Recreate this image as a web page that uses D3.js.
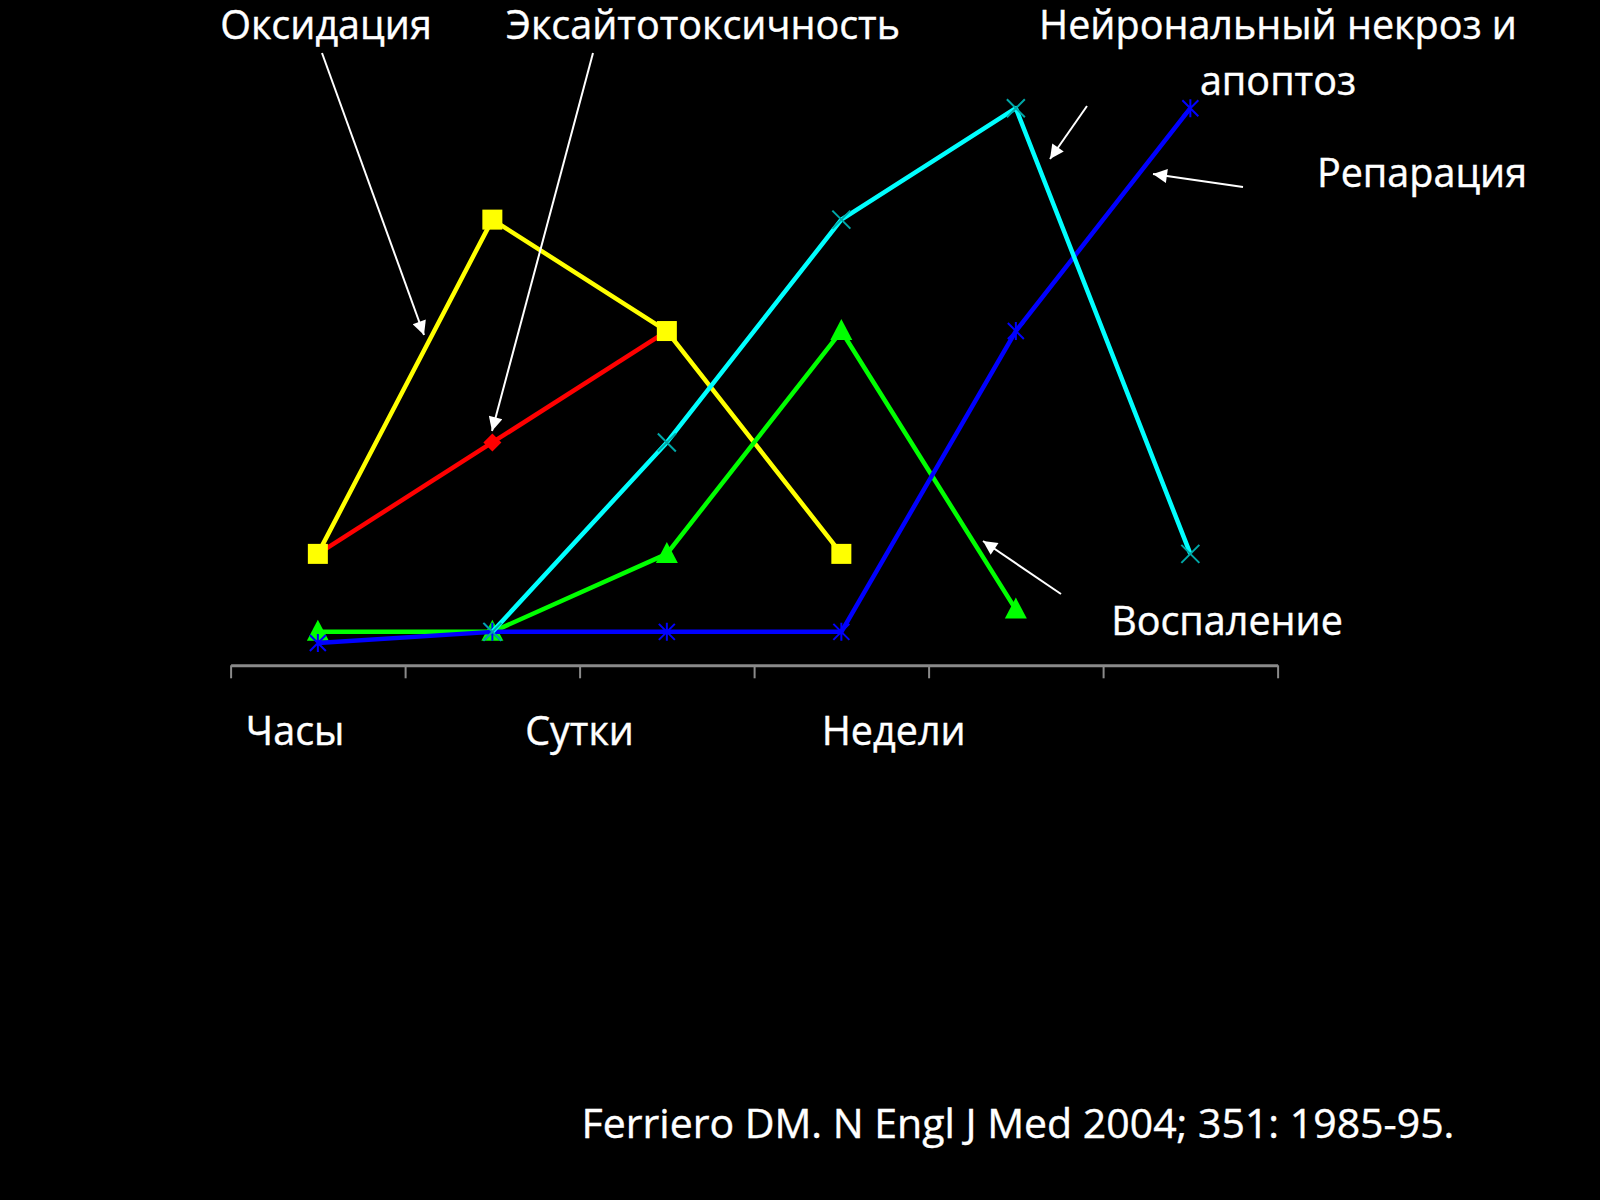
<!DOCTYPE html>
<html><head><meta charset="utf-8">
<script src="https://cdn.jsdelivr.net/npm/d3@7"></script>
<style>html,body{margin:0;padding:0;background:#000;}svg{display:block;}</style>
</head><body>
<svg id="c" width="1600" height="1200"></svg>
<script>
const categories = [0, 1, 2, 3, 4, 5];
const oxidation    = [1, 4, 3, 1, null, null];
const excitotox    = [1, 2, 3, null, null, null];
const necrosis     = [null, 0.3, 2, 4, 5, 1];
const inflammation = [0.3, 0.3, 1, 3, 0.5, null];
const reparation   = [0.2, 0.3, 0.3, 0.3, 3, 5];
const periodLabels = ["Часы", "Сутки", "Недели"];
const periodPos    = [0.37, 2.0, 3.8];
const seriesNames  = ["Оксидация", "Эксайтотоксичность", "Нейрональный некроз и апоптоз", "Репарация", "Воспаление"];
const citation = "Ferriero DM. N Engl J Med 2004; 351: 1985-95.";

const svg = d3.select("#c");
svg.append("rect").attr("width",1600).attr("height",1200).attr("fill","#000");

const x = d3.scaleLinear().domain([0, 6]).range([230.6, 1277.6]);
const y = d3.scaleLinear().domain([0, 5]).range([665.3, 108.2]);
const px = i => x(i + 0.5);

// axis
const ax = svg.append("g").attr("transform", `translate(0,${y(0)})`)
  .call(d3.axisBottom(x).tickValues(d3.range(0,7)).tickFormat("").tickSize(13).tickSizeOuter(0));
ax.select(".domain").attr("stroke","#8a8a8a").attr("stroke-width",3);
ax.selectAll(".tick line").attr("stroke","#8a8a8a").attr("stroke-width",2);

const line = d3.line().defined(d => d.v != null).x(d => px(d.i)).y(d => y(d.v));
const toPts = arr => categories.map(i => ({i, v: arr[i]}));

function drawSeries(arr, color, marker) {
  const pts = toPts(arr);
  svg.append("path").attr("d", line(pts)).attr("fill","none").attr("stroke",color)
    .attr("stroke-width",4.5).attr("stroke-linejoin","round");
  const g = svg.append("g");
  pts.filter(d => d.v != null).forEach(d => marker(g, px(d.i), y(d.v)));
}

const square = (g,cx,cy) => g.append("rect").attr("x",cx-10).attr("y",cy-10).attr("width",20).attr("height",20).attr("fill","#ffff00");
const diamond = (g,cx,cy) => g.append("path").attr("d",`M${cx},${cy-9}L${cx+9},${cy}L${cx},${cy+9}L${cx-9},${cy}Z`).attr("fill","#ff0000");
const triangle = (g,cx,cy) => g.append("path").attr("d",`M${cx},${cy-12}L${cx+11},${cy+9}L${cx-11},${cy+9}Z`).attr("fill","#00ff00");
const star = (g,cx,cy) => g.append("path").attr("d",`M${cx-8},${cy-8}L${cx+8},${cy+8}M${cx+8},${cy-8}L${cx-8},${cy+8}M${cx},${cy-9}L${cx},${cy+9}`).attr("stroke","#0000ff").attr("stroke-width",2);
const cross = (g,cx,cy) => g.append("path").attr("d",`M${cx-9},${cy-9}L${cx+9},${cy+9}M${cx+9},${cy-9}L${cx-9},${cy+9}`).attr("stroke","#00a8a8").attr("stroke-width",2);

drawSeries(excitotox, "#ff0000", diamond);
drawSeries(oxidation, "#ffff00", square);
drawSeries(inflammation, "#00ff00", triangle);
drawSeries(reparation, "#0000ff", star);
drawSeries(necrosis, "#00ffff", cross);

// arrows
const defs = svg.append("defs");
defs.append("marker").attr("id","ah").attr("viewBox","0 0 10 10").attr("refX",10).attr("refY",5)
  .attr("markerWidth",8).attr("markerHeight",7).attr("markerUnits","strokeWidth").attr("orient","auto")
  .append("path").attr("d","M0,0L10,5L0,10Z").attr("fill","#fff");
const arrows = [
  [322,53,424,335],
  [593,53,492,431],
  [1087,106,1050,159],
  [1243,187,1153,174],
  [1061,594,983,541]
];
arrows.forEach(a => svg.append("line").attr("x1",a[0]).attr("y1",a[1]).attr("x2",a[2]).attr("y2",a[3])
  .attr("stroke","#fff").attr("stroke-width",2).attr("marker-end","url(#ah)"));

const font = "'Open Sans', sans-serif";
function label(txt, cx, by, size, anchor) {
  return svg.append("text").attr("x",cx).attr("y",by).attr("fill","#fff")
    .attr("font-family",font).attr("font-size",size).attr("text-anchor",anchor||"middle")
    .attr("stroke","#fff").attr("stroke-width",0.4).text(txt);
}
label(seriesNames[0], 326, 39, 39.5);
label(seriesNames[1], 703, 39, 39.5);
label("Нейрональный некроз и", 1278, 39, 39.5);
label("апоптоз", 1278, 95, 39.5);
label(seriesNames[3], 1422, 187, 39.5);
label(seriesNames[4], 1227, 635, 39.5);
periodLabels.forEach((t,i) => label(t, x(periodPos[i]), 745, 39.5));
label(citation, 1018, 1138, 41);
</script>
</body></html>
